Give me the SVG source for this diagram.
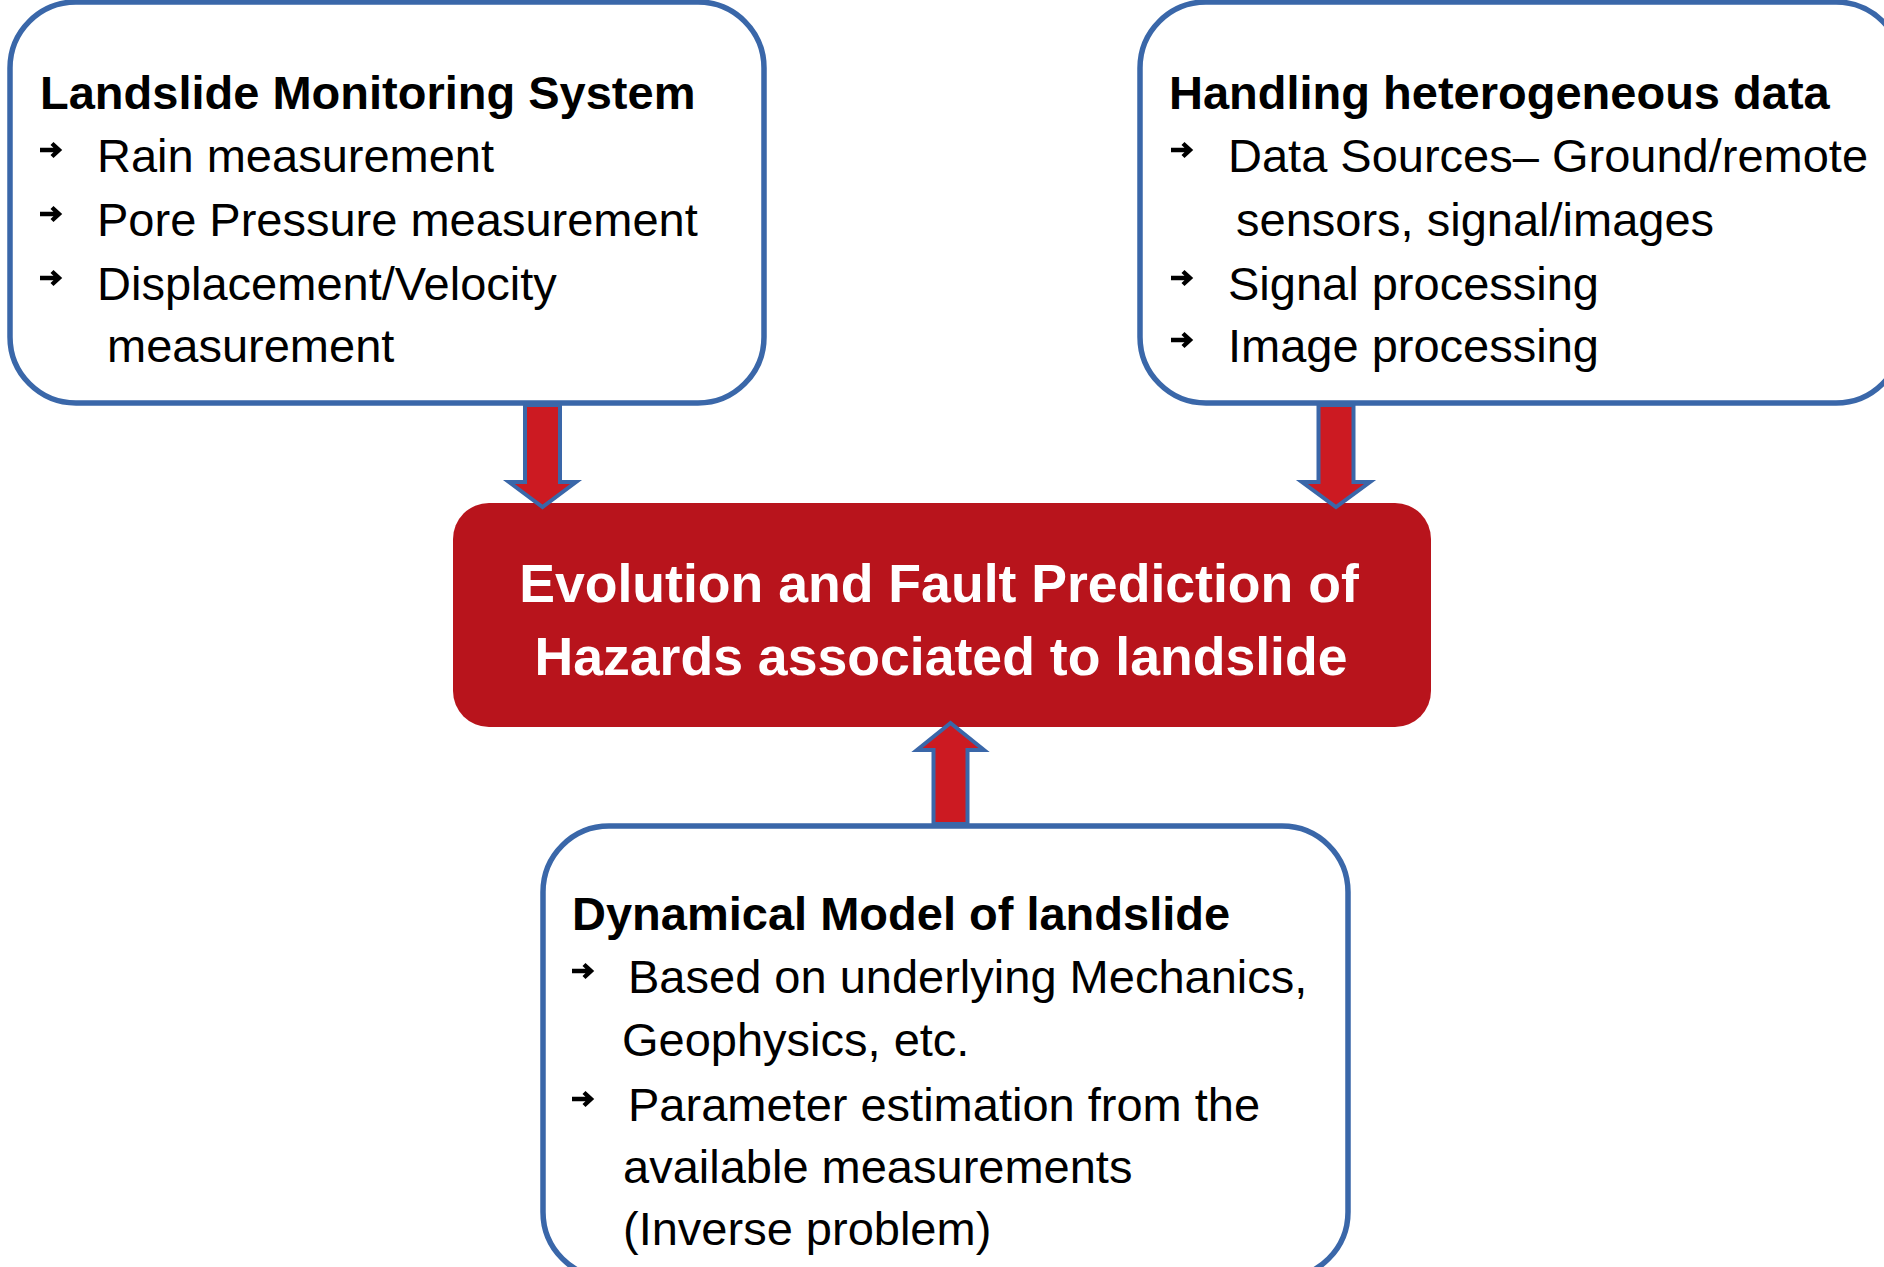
<svg xmlns="http://www.w3.org/2000/svg" width="1884" height="1267" viewBox="0 0 1884 1267">
<style>
.box{fill:#ffffff;stroke:#3A67A9;stroke-width:5.5}
.core{fill:#B8141C}
.ttl{font-family:"Liberation Sans",Arial,sans-serif;font-weight:bold;font-size:47px;fill:#000}
.txt{font-family:"Liberation Sans",Arial,sans-serif;font-size:47px;fill:#000}
.ctr{font-family:"Liberation Sans",Arial,sans-serif;font-weight:bold;font-size:53.6px;fill:#fff;text-anchor:middle}
.arw{fill:#CC1A22;stroke:#3A67A9;stroke-width:4;stroke-linejoin:miter}
.blt{fill:none;stroke:#000;stroke-width:4.4;stroke-linecap:butt;stroke-linejoin:miter}
</style>
<defs>
<path id="bullet" class="blt" d="M0,0 H18 M12,-6.5 L19,0 L12,6.5"/>
</defs>
<rect width="1884" height="1267" fill="#ffffff"/>
<g id="node-monitoring">
<rect class="box" x="10" y="2" width="754" height="401" rx="66" ry="66"/>
<text class="ttl" x="40" y="109">Landslide Monitoring System</text>
<use href="#bullet" x="40" y="150"/>
<text class="txt" x="97" y="172">Rain measurement</text>
<use href="#bullet" x="40" y="214"/>
<text class="txt" x="97" y="236">Pore Pressure measurement</text>
<use href="#bullet" x="40" y="278"/>
<text class="txt" x="97" y="300">Displacement/Velocity</text>
<text class="txt" x="107" y="362">measurement</text>
</g>
<g id="node-heterogeneous">
<rect class="box" x="1140" y="2" width="762" height="401" rx="66" ry="66"/>
<text class="ttl" x="1169" y="109">Handling heterogeneous data</text>
<use href="#bullet" x="1171" y="150"/>
<text class="txt" x="1228" y="172">Data Sources– Ground/remote</text>
<text class="txt" x="1236" y="236">sensors, signal/images</text>
<use href="#bullet" x="1171" y="278"/>
<text class="txt" x="1228" y="300">Signal processing</text>
<use href="#bullet" x="1171" y="340"/>
<text class="txt" x="1228" y="362">Image processing</text>
</g>
<g id="node-prediction">
<rect class="core" x="453" y="503" width="978" height="224" rx="36" ry="36"/>
<text class="ctr" x="939" y="602">Evolution and Fault Prediction of</text>
<text class="ctr" x="941" y="675">Hazards associated to landslide</text>
</g>
<g id="node-model">
<rect class="box" x="543" y="826" width="805" height="452" rx="66" ry="66"/>
<text class="ttl" x="572" y="930">Dynamical Model of landslide</text>
<use href="#bullet" x="572" y="971"/>
<text class="txt" x="628" y="993">Based on underlying Mechanics,</text>
<text class="txt" x="622" y="1056">Geophysics, etc.</text>
<use href="#bullet" x="572" y="1099"/>
<text class="txt" x="628" y="1121">Parameter estimation from the</text>
<text class="txt" x="623" y="1183">available measurements</text>
<text class="txt" x="623" y="1245">(Inverse problem)</text>
</g>
<g id="connectors">
<polygon class="arw" points="525,405 525,482 509,482 542.5,507 576,482 560,482 560,405"/>
<polygon class="arw" points="1318.5,405 1318.5,482 1302,482 1336,507 1370,482 1353.5,482 1353.5,405"/>
<polygon class="arw" points="933.5,824 933.5,750 917,750 950.5,723 984,750 967.5,750 967.5,824"/>
</g>
</svg>
